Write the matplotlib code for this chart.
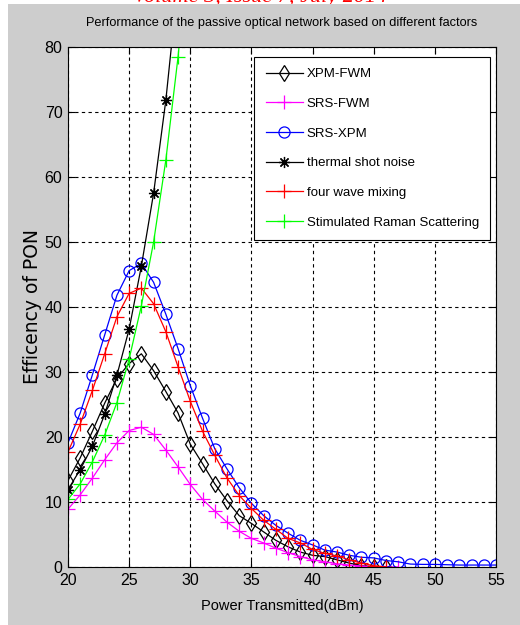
import numpy as np
import matplotlib
matplotlib.use("Agg")
import matplotlib.pyplot as plt
from matplotlib.patches import Rectangle

# ── Data ──────────────────────────────────────────────────
x_srs_xpm = list(range(20, 56))
srs_xpm = [19.1, 23.7, 29.6, 35.7, 41.8, 45.6, 46.7, 43.8, 38.9, 33.6,
           27.9, 22.9, 18.2, 15.1, 12.2, 9.8, 7.9, 6.4, 5.2, 4.1,
           3.4, 2.6, 2.3, 1.8, 1.5, 1.4, 1.0, 0.8, 0.45, 0.4,
           0.4, 0.35, 0.3, 0.3, 0.3, 0.3]

x_fwm = list(range(20, 47))
xpm_fwm = [13.3, 16.8, 20.9, 25.2, 29.0, 31.3, 32.8, 30.2, 27.0, 23.7,
           18.9, 15.9, 12.8, 10.2, 7.9, 6.7, 5.4, 4.1, 3.1, 2.3,
           1.8, 1.6, 1.1, 0.6, 0.2, 0.05, 0.0]
four_wave = [17.7, 22.0, 27.2, 32.8, 38.5, 42.1, 42.9, 40.5, 36.2, 30.8,
             25.5, 20.9, 17.2, 13.7, 11.0, 9.0, 7.2, 5.8, 4.4, 3.7,
             2.7, 2.1, 1.7, 1.1, 0.6, 0.2, 0.0]

x_srs_fwm = list(range(20, 48))
srs_fwm = [8.9, 11.1, 13.7, 16.5, 19.1, 21.0, 21.5, 20.4, 18.0, 15.4,
           12.7, 10.4, 8.6, 6.9, 5.5, 4.4, 3.7, 2.9, 2.2, 1.6,
           1.1, 0.8, 0.5, 0.3, 0.15, 0.05, 0.0, 0.0]

x_thermal = list(range(20, 30))
thermal = [11.9, 15.0, 18.6, 23.5, 29.5, 36.6, 46.3, 57.5, 71.8, 90.0]

x_raman = list(range(20, 31))
raman = [10.4, 12.8, 16.2, 20.3, 25.3, 32.0, 40.2, 50.0, 62.6, 78.5, 98.0]

x_ticks = [20, 25, 30, 35, 40, 45, 50, 55]
y_ticks = [0, 10, 20, 30, 40, 50, 60, 70, 80]

# ── Figure ────────────────────────────────────────────────
fig = plt.figure(figsize=(5.2, 6.25), dpi=100)
fig.patch.set_facecolor("white")
fig.patches.append(Rectangle((8 / 520, 0), 1, 1 - 4 / 625, transform=fig.transFigure,
                             facecolor="#cdcdcd", edgecolor="none", zorder=-1))
# page header of the source paper, mostly cut off above the figure
fig.text(0.5, 1 - 2 / 625, "Volume 3, Issue 7, July 2014", color="red", fontsize=16,
         family="Liberation Serif", style="italic", ha="center", va="baseline", zorder=-2)

ax = fig.add_axes([68 / 520, 1 - 567 / 625, 428 / 520, 520 / 625])
ax.set_facecolor("white")

cond = "Liberation Sans"
ax.plot(x_fwm, xpm_fwm, color="black", lw=0.9, marker="d", ms=8, mfc="none",
        mec="black", mew=0.9, label="XPM-FWM")
ax.plot(x_srs_fwm, srs_fwm, color="magenta", lw=0.9, marker="+", ms=10, mew=0.9,
        label="SRS-FWM")
ax.plot(x_srs_xpm, srs_xpm, color="blue", lw=0.9, marker="o", ms=8, mfc="none",
        mec="blue", mew=0.9, label="SRS-XPM")
ax.plot(x_thermal, thermal, color="black", lw=0.9, marker=(8, 2, 0), ms=8, mew=0.9,
        label="thermal shot noise")
ax.plot(x_fwm, four_wave, color="red", lw=0.9, marker="+", ms=10, mew=0.9,
        label="four wave mixing")
ax.plot(x_raman, raman, color="#00ff00", lw=0.9, marker="+", ms=10, mew=0.9,
        label="Stimulated Raman Scattering")

ax.set_xlim(20, 55)
ax.set_ylim(0, 80)
ax.set_xticks(x_ticks)
ax.set_yticks(y_ticks)
ax.tick_params(direction="in", length=5, width=0.8, top=True, right=True,
               labelsize=11.5, pad=4)
for lab in ax.get_xticklabels() + ax.get_yticklabels():
    lab.set_family(cond)
ax.grid(True, color="black", linestyle=(0, (3, 3)), linewidth=0.8)
ax.set_axisbelow(True)
for spine in ax.spines.values():
    spine.set_linewidth(0.8)

ax.set_title("Performance of the passive optical network based on different factors",
             fontsize=9.2, family=cond, pad=15)
ax.set_xlabel("Power Transmitted(dBm)", fontsize=10.5, family=cond, labelpad=8)
ax.set_ylabel("Efficency of PON", fontsize=13.5, family="DejaVu Sans", labelpad=2)

leg = ax.legend(loc="upper right", bbox_to_anchor=(0.986, 0.981), borderaxespad=0,
                prop={"family": cond, "size": 9.5}, numpoints=1, handlelength=2.8,
                fancybox=False, framealpha=1, edgecolor="black", labelspacing=1.32,
                borderpad=0.85, handletextpad=0.3)
leg.get_frame().set_linewidth(0.8)

plt.savefig("out.png", dpi=100, facecolor=fig.get_facecolor())
plt.close()
